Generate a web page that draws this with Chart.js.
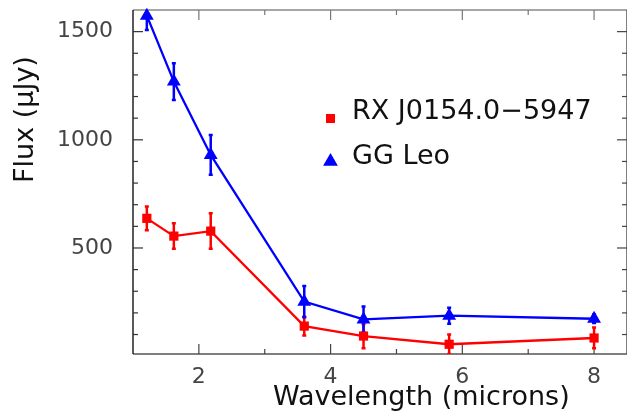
<!DOCTYPE html>
<html>
<head>
<meta charset="utf-8">
<script src="https://cdn.jsdelivr.net/npm/chart.js@4.4.1/dist/chart.umd.min.js"></script>
<style>
  html, body { margin: 0; padding: 0; background: #fff; }
  #wrap { width: 627px; height: 420px; }
</style>
</head>
<body>
<div id="wrap"><canvas id="fluxChart" width="627" height="420"></canvas></div>
<script>
// values
const WAVELENGTHS = [1.21, 1.62, 2.18, 3.6, 4.5, 5.8, 8.0];
const RX_FLUX = [637, 555, 578, 139, 93, 55, 84];
const RX_ERR = [55, 59, 82, 43, 56, 45, 48];
const GG_FLUX = [1574, 1269, 930, 252, 170, 187, 173];
const GG_ERR = [66, 85, 92, 72, 60, 37, 20];

const SERIES_LABELS = ["RX J0154.0\u22125947", "GG Leo"];
const X_MAJOR_TICKS = [2, 4, 6, 8];
const X_MINOR_TICKS = [3, 5, 7];
const Y_MAJOR_TICKS = [500, 1000, 1500];
const Y_MINOR_TICKS = [100, 200, 300, 400, 600, 700, 800, 900, 1100, 1200, 1300, 1400];
const X_TITLE = "Wavelength (microns)";
const Y_TITLE = "Flux (\u03bcJy)";

const FONT = "DejaVu Sans";
const RED = "#ff0000";
const BLUE = "#0000ff";

const errors = [RX_ERR, GG_ERR];

function drawTriangle(ctx, x, y, r) {
  ctx.beginPath();
  ctx.moveTo(x, y - r);
  ctx.lineTo(x + r * 0.866, y + r * 0.5);
  ctx.lineTo(x - r * 0.866, y + r * 0.5);
  ctx.closePath();
  ctx.fill();
}

const framePlugin = {
  id: "frame",
  beforeDatasetsDraw(chart) {
    const { ctx, chartArea: a, scales } = chart;
    const xs = scales.x;
    const ys = scales.y;
    ctx.save();

    // axes box
    ctx.lineWidth = 1.5;
    ctx.strokeStyle = "#888";
    ctx.beginPath(); ctx.moveTo(a.left, a.top); ctx.lineTo(a.right, a.top); ctx.stroke();
    ctx.strokeStyle = "#555";
    ctx.beginPath(); ctx.moveTo(a.left, a.bottom); ctx.lineTo(a.right, a.bottom); ctx.stroke();
    ctx.strokeStyle = "#222";
    ctx.beginPath(); ctx.moveTo(a.left, a.top); ctx.lineTo(a.left, a.bottom); ctx.stroke();
    ctx.strokeStyle = "#555";
    ctx.beginPath(); ctx.moveTo(a.right, a.top); ctx.lineTo(a.right, a.bottom); ctx.stroke();

    // inward ticks
    function xTick(v, len) {
      const px = xs.getPixelForValue(v);
      ctx.strokeStyle = "#444";
      ctx.beginPath(); ctx.moveTo(px, a.bottom); ctx.lineTo(px, a.bottom - len); ctx.stroke();
      ctx.strokeStyle = "#777";
      ctx.beginPath(); ctx.moveTo(px, a.top); ctx.lineTo(px, a.top + len); ctx.stroke();
    }
    function yTick(v, len) {
      const py = ys.getPixelForValue(v);
      ctx.strokeStyle = "#333";
      ctx.beginPath(); ctx.moveTo(a.left, py); ctx.lineTo(a.left + len, py); ctx.stroke();
      ctx.strokeStyle = "#444";
      ctx.beginPath(); ctx.moveTo(a.right, py); ctx.lineTo(a.right - len, py); ctx.stroke();
    }
    ctx.lineWidth = 1.2;
    X_MAJOR_TICKS.forEach((v) => xTick(v, 10));
    X_MINOR_TICKS.forEach((v) => xTick(v, 5));
    Y_MAJOR_TICKS.forEach((v) => yTick(v, 10));
    Y_MINOR_TICKS.forEach((v) => yTick(v, 5));

    // error bars, clipped to the plot box
    ctx.beginPath();
    ctx.rect(a.left, a.top, a.right - a.left, a.bottom - a.top);
    ctx.clip();
    chart.data.datasets.forEach((ds, i) => {
      ctx.strokeStyle = ds.borderColor;
      ctx.lineWidth = 2.5;
      ds.data.forEach((pt, j) => {
        const px = xs.getPixelForValue(pt.x);
        const top = ys.getPixelForValue(pt.y + errors[i][j]);
        const bot = ys.getPixelForValue(pt.y - errors[i][j]);
        ctx.beginPath();
        ctx.moveTo(px, top); ctx.lineTo(px, bot);
        ctx.moveTo(px - 2, top); ctx.lineTo(px + 2, top);
        ctx.moveTo(px - 2, bot); ctx.lineTo(px + 2, bot);
        ctx.stroke();
      });
    });
    ctx.restore();
  },
  afterDraw(chart) {
    const { ctx } = chart;
    ctx.save();
    ctx.fillStyle = "#111";
    ctx.textBaseline = "alphabetic";

    // axis titles
    ctx.font = "27px '" + FONT + "'";
    ctx.textAlign = "left";
    ctx.fillText(X_TITLE, 273, 405);
    ctx.save();
    ctx.translate(33, 183);
    ctx.rotate(-Math.PI / 2);
    ctx.fillText(Y_TITLE, 0, 0);
    ctx.restore();

    // legend
    ctx.fillStyle = RED;
    ctx.fillRect(326, 114, 9, 9);
    ctx.fillStyle = BLUE;
    drawTriangle(ctx, 330.5, 161.5, 8.5);
    ctx.fillStyle = "#111";
    ctx.fillText(SERIES_LABELS[0], 352, 119);
    ctx.fillText(SERIES_LABELS[1], 352, 164);
    ctx.restore();
  },
};

const rxPoints = WAVELENGTHS.map((w, i) => ({ x: w, y: RX_FLUX[i] }));
const ggPoints = WAVELENGTHS.map((w, i) => ({ x: w, y: GG_FLUX[i] }));

new Chart(document.getElementById("fluxChart"), {
  type: "line",
  data: {
    datasets: [
      {
        label: SERIES_LABELS[0],
        data: rxPoints,
        borderColor: RED,
        backgroundColor: RED,
        borderWidth: 2.3,
        tension: 0,
        pointStyle: "rect",
        pointRadius: 6.5,
        pointBorderWidth: 0,
        clip: false,
      },
      {
        label: SERIES_LABELS[1],
        data: ggPoints,
        borderColor: BLUE,
        backgroundColor: BLUE,
        borderWidth: 2.3,
        tension: 0,
        pointStyle: "triangle",
        pointRadius: 8,
        pointBorderWidth: 0,
        clip: false,
      },
    ],
  },
  options: {
    responsive: false,
    animation: false,
    devicePixelRatio: 1,
    layout: { autoPadding: false, padding: { top: 10, right: 0, left: 0, bottom: 0 } },
    plugins: {
      legend: { display: false },
      tooltip: { enabled: false },
    },
    scales: {
      x: {
        type: "linear",
        min: 1,
        max: 8.5,
        grid: { display: false, drawTicks: false },
        border: { display: false },
        afterBuildTicks: (s) => { s.ticks = X_MAJOR_TICKS.map((v) => ({ value: v })); },
        afterFit: (s) => {
          s.height = 66;
          s.paddingLeft = 0;
          s.paddingRight = 0;
        },
        ticks: {
          autoSkip: false,
          maxRotation: 0,
          padding: 10,
          color: "#444",
          font: { family: FONT, size: 22 },
          callback: (v) => String(v),
        },
      },
      y: {
        type: "linear",
        min: 10,
        max: 1600,
        grid: { display: false, drawTicks: false },
        border: { display: false },
        afterBuildTicks: (s) => { s.ticks = Y_MAJOR_TICKS.map((v) => ({ value: v })); },
        afterFit: (s) => {
          s.width = 133;
          s.paddingTop = 0;
          s.paddingBottom = 0;
        },
        ticks: {
          autoSkip: false,
          padding: 20,
          color: "#444",
          font: { family: FONT, size: 22 },
          callback: (v) => String(v),
        },
      },
    },
  },
  plugins: [framePlugin],
});
</script>
</body>
</html>
